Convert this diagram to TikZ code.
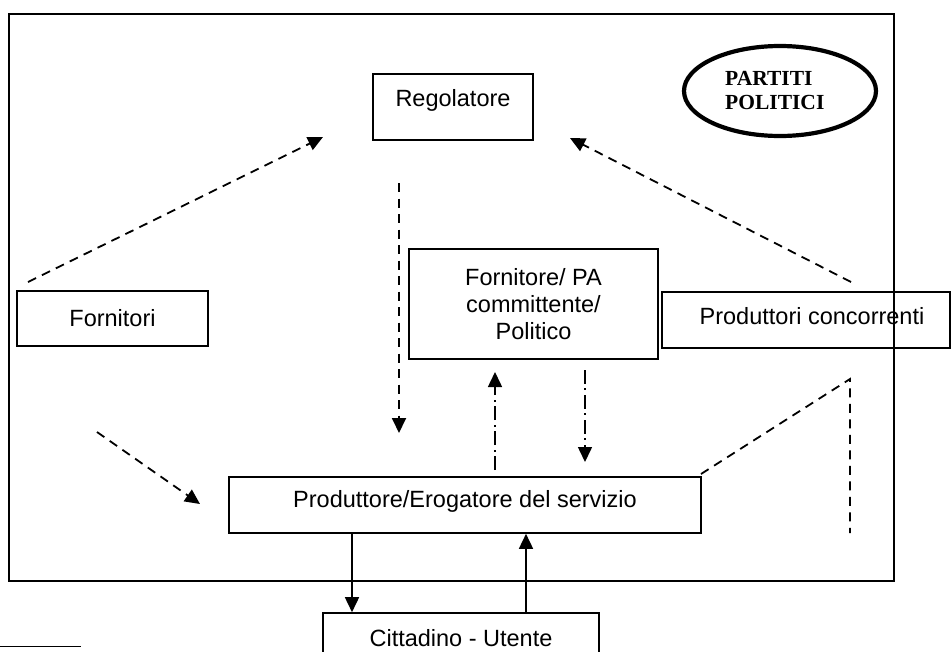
\documentclass[tikz,border=0pt]{standalone}
\usepackage{fontspec}
\setmainfont{Liberation Sans}
\newfontfamily\serifbold{Liberation Serif}
\usetikzlibrary{arrows.meta,shapes.geometric}
\begin{document}
\begin{tikzpicture}[x=1pt,y=-1pt,
  every node/.style={font=\fontsize{23.5}{27}\selectfont},
  boxnode/.style={draw,line width=1.6pt,rectangle,inner sep=0pt,align=center},
  dashlink/.style={line width=1.8pt,dash pattern=on 9pt off 6.5pt},
  dotlink/.style={line width=1.5pt,dash pattern=on 14pt off 4pt on 2pt off 5pt},
  solidlink/.style={line width=1.6pt},
  tip/.style={-{Triangle[length=15pt,width=14pt]}}
]
\useasboundingbox (0,0) rectangle (952,651);

% outer frame
\draw[line width=2pt] (9,14) rectangle (894,581);

% boxes
\node[boxnode,minimum width=160,minimum height=66] (reg) at (453,107) {};
\node (regtext) at (453,100) {Regolatore};
\node[boxnode,minimum width=191,minimum height=55] (forn) at (112.5,318.5) {Fornitori};
\node[boxnode,minimum width=249,minimum height=110] (fpa) at (533.5,304) {Fornitore/ PA\\committente/\\Politico};
\node[boxnode,minimum width=288,minimum height=56] (conc) at (806,320) {};
\node (conctext) at (812,316) {Produttori concorrenti};
\node[boxnode,minimum width=472,minimum height=56] (prod) at (465,505) {};
\node (prodtext) at (465,501) {Produttore/Erogatore del servizio};
\node[boxnode,minimum width=276,minimum height=56] (citt) at (461,641) {};
\node (citttext) at (461,638) {Cittadino - Utente};

% ellipse with the parties
\node[draw,ellipse,line width=4.2pt,minimum width=192,minimum height=90,inner sep=0pt] (partiti) at (780,91) {};
\node[anchor=west,align=left,inner sep=0pt,
  font=\serifbold\bfseries\fontsize{21.5}{24}\selectfont] (partititext) at (725,91) {PARTITI\\POLITICI};

% free ends of the dashed connectors
\coordinate (fa) at (28,282);
\coordinate (fb) at (323,137);
\coordinate (ca) at (851,282);
\coordinate (cb) at (570,138);
\coordinate (ra) at (399,183);
\coordinate (rb) at (399,433);
\coordinate (la) at (97,432);
\coordinate (lb) at (200,504);
\coordinate (ua) at (495,470);
\coordinate (ub) at (495,372);
\coordinate (da) at (585,370);
\coordinate (db) at (585,462);
\coordinate (pa) at (701,474);
\coordinate (pb) at (850,379);
\coordinate (pc) at (850,533);

\draw[dashlink,tip] (fa) -- (fb);
\draw[dashlink,tip] (ca) -- (cb);
\draw[dashlink,tip] (ra) -- (rb);
\draw[dashlink,tip] (la) -- (lb);
\draw[dotlink,tip] (ua) -- (ub);
\draw[dotlink,tip] (da) -- (db);
\draw[dashlink] (pa) -- (pb) -- (pc);

% links to the citizen
\draw[solidlink,tip] (prod.south -| 352,0) -- (citt.north -| 352,0);
\draw[solidlink,tip] (citt.north -| 526,0) -- (prod.south -| 526,0);

% footnote rule
\coordinate (rulea) at (0,646);
\coordinate (ruleb) at (81,646);
\draw[line width=1pt] (rulea) -- (ruleb);
\end{tikzpicture}
\end{document}
